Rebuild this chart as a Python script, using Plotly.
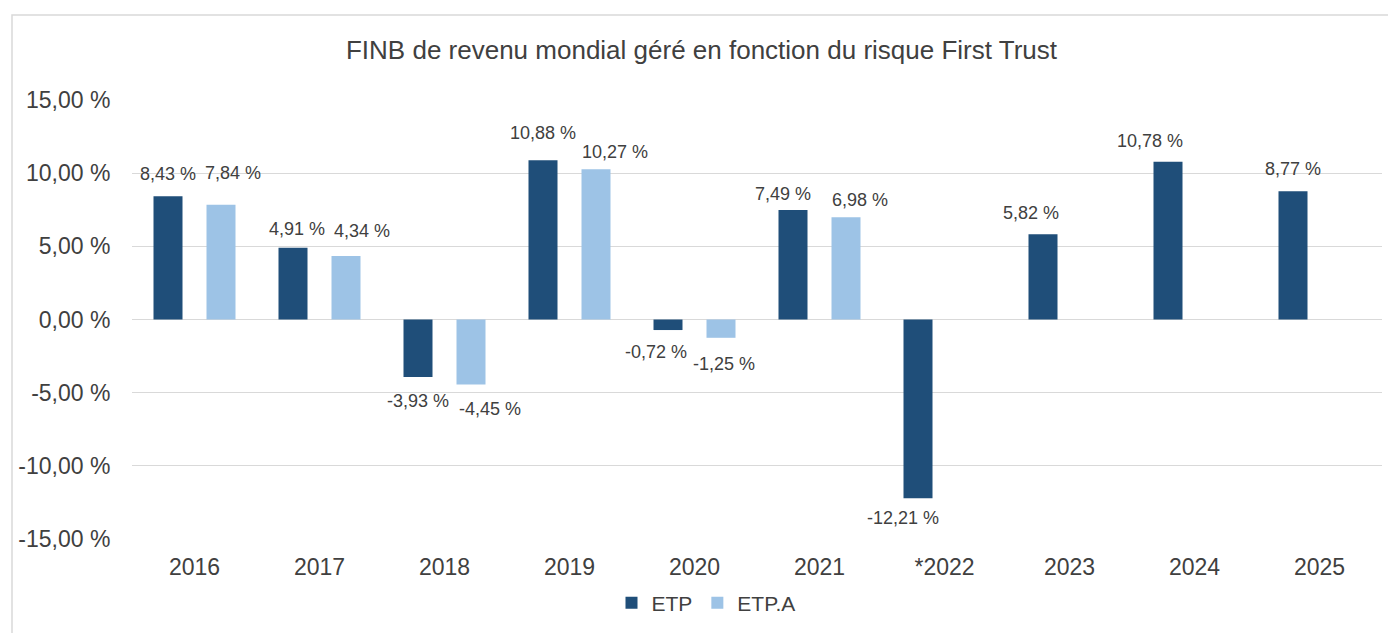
import plotly.graph_objects as go

# ---- data ----
years = ["2016", "2017", "2018", "2019", "2020", "2021", "*2022", "2023", "2024", "2025"]
etp = [8.43, 4.91, -3.93, 10.88, -0.72, 7.49, -12.21, 5.82, 10.78, 8.77]
etp_a = [7.84, 4.34, -4.45, 10.27, -1.25, 6.98, None, None, None, None]
series_names = ["ETP", "ETP.A"]
y_ticks = [-15, -10, -5, 0, 5, 10, 15]
title_text = "FINB de revenu mondial géré en fonction du risque First Trust"

# ---- style ----
colors = ["#1F4E79", "#9DC3E6"]
text_color = "#404040"
grid_color = "#d9d9d9"
font_family = "Liberation Sans, Arial, sans-serif"
slot_px = 53  # half group width in px (used for label placement)
# small label nudges (px) copied from the reference layout
label_dx = [
    [0, 4, 0, 0, -12, -10, -15, -12, -18, 0],
    [12, 16, 19, 19, 3, 14, 0, 0, 0, 0],
]
label_gap = [
    [22, 19, 24, 27, 22, 16, 20, 21, 21, 22],
    [32, 25, 24, 17, 26, 17, 22, 22, 22, 22],
]


def fmt(v):
    return f"{v:.2f}".replace(".", ",") + " %"


fig = go.Figure()
all_series = [etp, etp_a]
for name, vals, col in zip(series_names, all_series, colors):
    fig.add_trace(go.Bar(
        x=years, y=vals, name=name,
        marker=dict(color=col, line=dict(width=0)),
        hoverinfo="skip",
    ))

annotations = []
for si, vals in enumerate(all_series):
    base_shift = (-0.5 if si == 0 else 0.5) * slot_px
    for i, v in enumerate(vals):
        if v is None:
            continue
        gap = label_gap[si][i]
        annotations.append(dict(
            x=i, y=v, xref="x", yref="y",
            text=fmt(v), showarrow=False,
            xanchor="center", yanchor="middle",
            xshift=base_shift + label_dx[si][i],
            yshift=gap if v >= 0 else -gap,
            font=dict(size=18, color=text_color, family=font_family),
        ))

# plot area: x 132..1382, y 100..539
pw, ph = 1250, 439
fig.add_shape(
    type="rect", xref="paper", yref="paper",
    x0=(12 - 132) / pw, x1=(1400 - 132) / pw,
    y0=(539 - 660) / ph, y1=(539 - 15) / ph,
    line=dict(color="#d9d9d9", width=1.5), fillcolor="rgba(0,0,0,0)",
    layer="below",
)

fig.update_layout(
    width=1388, height=633,
    margin=dict(l=132, r=6, t=100, b=94, autoexpand=False),
    paper_bgcolor="white", plot_bgcolor="white",
    barmode="group", bargap=0.152, bargroupgap=0.453,
    font=dict(family=font_family, color=text_color),
    title=dict(
        text=title_text, x=701.5 / 1388, xanchor="center",
        y=1 - 50 / 633, yanchor="middle", yref="container",
        font=dict(size=26, color=text_color, family=font_family),
    ),
    showlegend=True,
    legend=dict(
        orientation="h", x=(706 - 132) / pw, xanchor="center",
        y=(539 - 603) / ph, yanchor="middle",
        font=dict(size=21, color=text_color, family=font_family),
        itemwidth=30, bgcolor="rgba(0,0,0,0)",
    ),
    annotations=annotations,
)

fig.update_yaxes(
    range=[-15, 15], tickmode="array", tickvals=y_ticks,
    ticktext=[fmt(t) for t in y_ticks],
    showgrid=True, gridcolor=grid_color, gridwidth=1.3,
    zeroline=True, zerolinecolor=grid_color, zerolinewidth=1.3,
    showline=False, ticks="outside", ticklen=16, tickcolor="rgba(0,0,0,0)",
    tickfont=dict(size=23, color=text_color, family=font_family),
)
fig.update_xaxes(
    type="category", categoryorder="array", categoryarray=years,
    range=[-0.5, len(years) - 0.5],
    showgrid=False, showline=False, ticks="outside", ticklen=7,
    tickcolor="rgba(0,0,0,0)",
    tickfont=dict(size=23, color=text_color, family=font_family),
)

fig.write_html("out.html")
